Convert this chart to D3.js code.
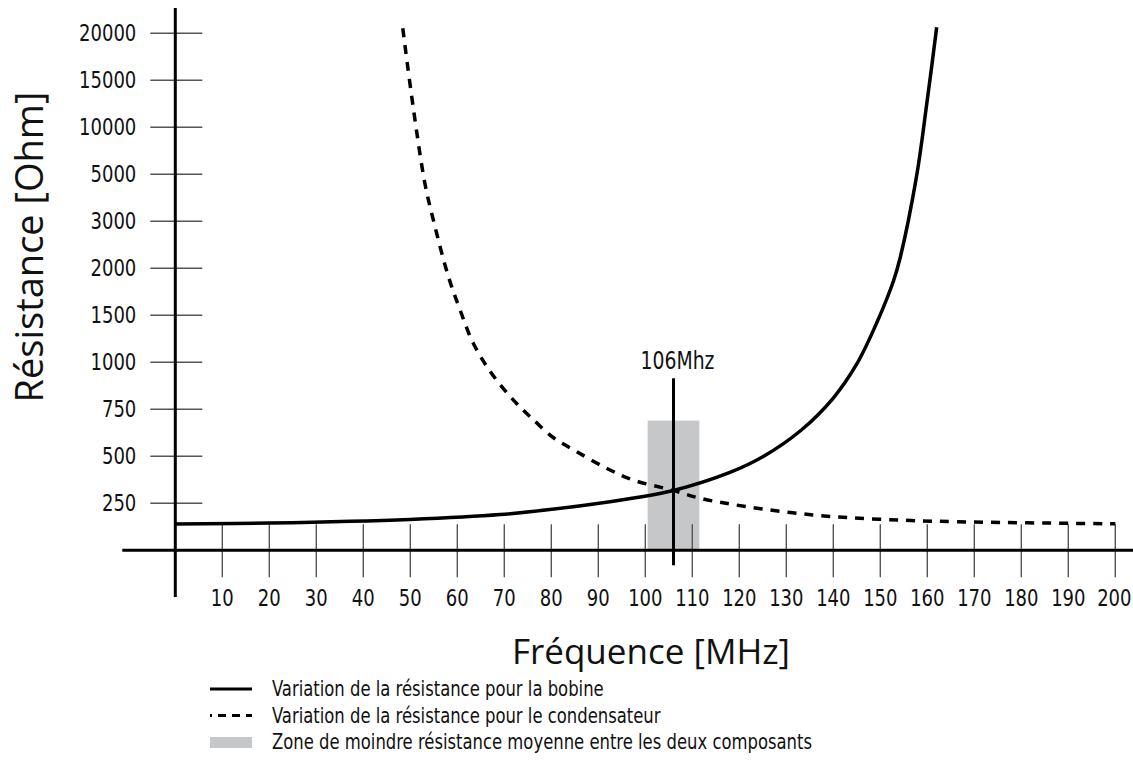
<!DOCTYPE html>
<html>
<head>
<meta charset="utf-8">
<script src="https://cdn.jsdelivr.net/npm/d3@7"></script>
<style>
    body { margin: 0; background: #ffffff; }
    .tick-label { font-family: "Liberation Sans Narrow", "DejaVu Sans Condensed", sans-serif; font-size: 23px; fill: #111; }
    .legend-label { font-family: "Liberation Sans Narrow", "DejaVu Sans Condensed", sans-serif; font-size: 21px; fill: #111; }
    .title { font-family: "Open Sans", "Noto Sans", sans-serif; fill: #111; }
</style>
</head>
<body>
<svg id="chart" width="1133" height="780"></svg>
<script>
// axis levels (the resistance axis is not linear: equal spacing per label)
const freqTicks = [10, 20, 30, 40, 50, 60, 70, 80, 90, 100, 110, 120, 130, 140, 150, 160, 170, 180, 190, 200];
const ohmLevels = [0, 250, 500, 750, 1000, 1500, 2000, 3000, 5000, 10000, 15000, 20000];

// bobine (solid curve)
const bobineFreq = [0, 20, 49.9, 69.1, 87.5, 98.2, 106, 118, 125.1, 133.2, 140, 145, 149.2, 152.8, 154.2, 157.7, 159.9, 162];
const bobineOhm = [140, 145, 164, 190, 241, 281, 318, 414, 499, 640, 810, 991, 1415, 1865, 2213, 4900, 12550, 20640];

// condensateur (dashed curve)
const condFreq = [48.4, 50.6, 53.1, 54.9, 58.0, 60.6, 63.4, 67.3, 71.9, 75.5, 80.4, 85.4, 91.8, 97.4, 106, 111.6, 121.6, 135.7, 149.9, 166.3, 200];
const condOhm = [20530, 12190, 4620, 3060, 1930, 1556, 1202, 941, 800, 711, 600, 525, 436, 374, 318, 277, 232, 188, 165, 152, 141];

// zone of least resistance and the 106 MHz marker
const zone = { from: 100.5, to: 111.5, top: 690 };
const marker = { freq: 106, top: 915, label: "106Mhz" };

const legendItems = [
    { type: "solid", text: "Variation de la résistance pour la bobine" },
    { type: "dashed", text: "Variation de la résistance pour le condensateur" },
    { type: "zone", text: "Zone de moindre résistance moyenne entre les deux composants" }
];

const attr = {
    x0: 175.3,
    x1: 1115.3,
    y0: 550.3,
    step: 47,
    narrow: 0.87,
    zoneColor: "#c6c7c8",
    tickColor: "#555555"
};

const svg = d3.select("#chart");

const x = d3.scaleLinear().domain([0, 200]).range([attr.x0, attr.x1]);
const y = d3
    .scaleLinear()
    .domain(ohmLevels)
    .range(ohmLevels.map((d, i) => attr.y0 - i * attr.step));

// condensed text: the system has no narrow font, so squeeze horizontally
const narrowAt = function(a, b) {
    return "translate(" + a + ", " + b + ") scale(" + attr.narrow + ", 1)";
};

// zone rectangle (behind everything)
svg.append("rect")
    .attr("x", x(zone.from))
    .attr("y", y(zone.top))
    .attr("width", x(zone.to) - x(zone.from))
    .attr("height", y(0) - y(zone.top))
    .style("fill", attr.zoneColor);

// y ticks
const yt = ohmLevels.slice(1);
svg.append("g")
    .selectAll("line")
    .data(yt)
    .enter()
    .append("line")
    .attr("x1", x(0) - 25)
    .attr("x2", x(0) + 27)
    .attr("y1", d => y(d))
    .attr("y2", d => y(d))
    .style("stroke", attr.tickColor)
    .style("stroke-width", 1.4);

svg.append("g")
    .selectAll("text")
    .data(yt)
    .enter()
    .append("text")
    .attr("class", "tick-label")
    .attr("transform", d => narrowAt(x(0) - 39, y(d)))
    .attr("dy", "0.35em")
    .attr("text-anchor", "end")
    .text(d => d);

// x ticks
svg.append("g")
    .selectAll("line")
    .data(freqTicks)
    .enter()
    .append("line")
    .attr("x1", d => x(d))
    .attr("x2", d => x(d))
    .attr("y1", y(0) - 26)
    .attr("y2", y(0) + 27)
    .style("stroke", attr.tickColor)
    .style("stroke-width", 1.4);

svg.append("g")
    .selectAll("text")
    .data(freqTicks)
    .enter()
    .append("text")
    .attr("class", "tick-label")
    .attr("transform", d => narrowAt(x(d) - (d === 200 ? 1 : 0), y(0) + 56))
    .attr("text-anchor", "middle")
    .text(d => d);

// axes
svg.append("line")
    .attr("x1", x(0) - 53)
    .attr("x2", 1133)
    .attr("y1", y(0))
    .attr("y2", y(0))
    .style("stroke", "#000")
    .style("stroke-width", 3);

svg.append("line")
    .attr("x1", x(0))
    .attr("x2", x(0))
    .attr("y1", 8)
    .attr("y2", 597)
    .style("stroke", "#000")
    .style("stroke-width", 3);

// curves
const line = d3
    .line()
    .x(d => x(d[0]))
    .y(d => y(d[1]))
    .curve(d3.curveCatmullRom.alpha(0.5));

svg.append("path")
    .datum(d3.zip(bobineFreq, bobineOhm))
    .attr("d", line)
    .style("fill", "none")
    .style("stroke", "#000")
    .style("stroke-width", 3.5);

svg.append("path")
    .datum(d3.zip(condFreq, condOhm))
    .attr("d", line)
    .style("fill", "none")
    .style("stroke", "#000")
    .style("stroke-width", 3.5)
    .style("stroke-dasharray", "9,8");

// 106 MHz marker
svg.append("line")
    .attr("x1", x(marker.freq))
    .attr("x2", x(marker.freq))
    .attr("y1", y(marker.top))
    .attr("y2", y(0) + 15)
    .style("stroke", "#000")
    .style("stroke-width", 3);

svg.append("text")
    .attr("class", "tick-label")
    .attr("transform", narrowAt(x(marker.freq) + 4, y(marker.top) - 9))
    .attr("text-anchor", "middle")
    .style("font-size", "24px")
    .text(marker.label);

// axis titles
svg.append("text")
    .attr("class", "title")
    .attr("x", 651)
    .attr("y", 664)
    .attr("text-anchor", "middle")
    .style("font-size", "35px")
    .text("Fréquence [MHz]");

svg.append("text")
    .attr("class", "title")
    .attr("transform", "translate(43, 247) rotate(-90)")
    .attr("text-anchor", "middle")
    .style("font-size", "38px")
    .text("Résistance [Ohm]");

// legend
const legend = svg
    .append("g")
    .selectAll("g")
    .data(legendItems)
    .enter()
    .append("g")
    .attr("transform", (d, i) => "translate(210, " + (689 + i * 26.5) + ")");

legend.each(function(d) {
    let g = d3.select(this);
    if (d.type === "zone") {
        g.append("rect")
            .attr("x", 0)
            .attr("y", -5)
            .attr("width", 42)
            .attr("height", 11)
            .style("fill", attr.zoneColor);
    } else {
        g.append("line")
            .attr("x1", 0)
            .attr("x2", 42)
            .style("stroke", "#000")
            .style("stroke-width", 3)
            .style("stroke-dasharray", d.type === "dashed" ? "8,6" : null)
            .style("stroke-dashoffset", d.type === "dashed" ? 6 : null);
    }
});

legend
    .append("text")
    .attr("class", "legend-label")
    .attr("transform", narrowAt(62, 0))
    .attr("dy", "0.35em")
    .text(d => d.text);
</script>
</body>
</html>
